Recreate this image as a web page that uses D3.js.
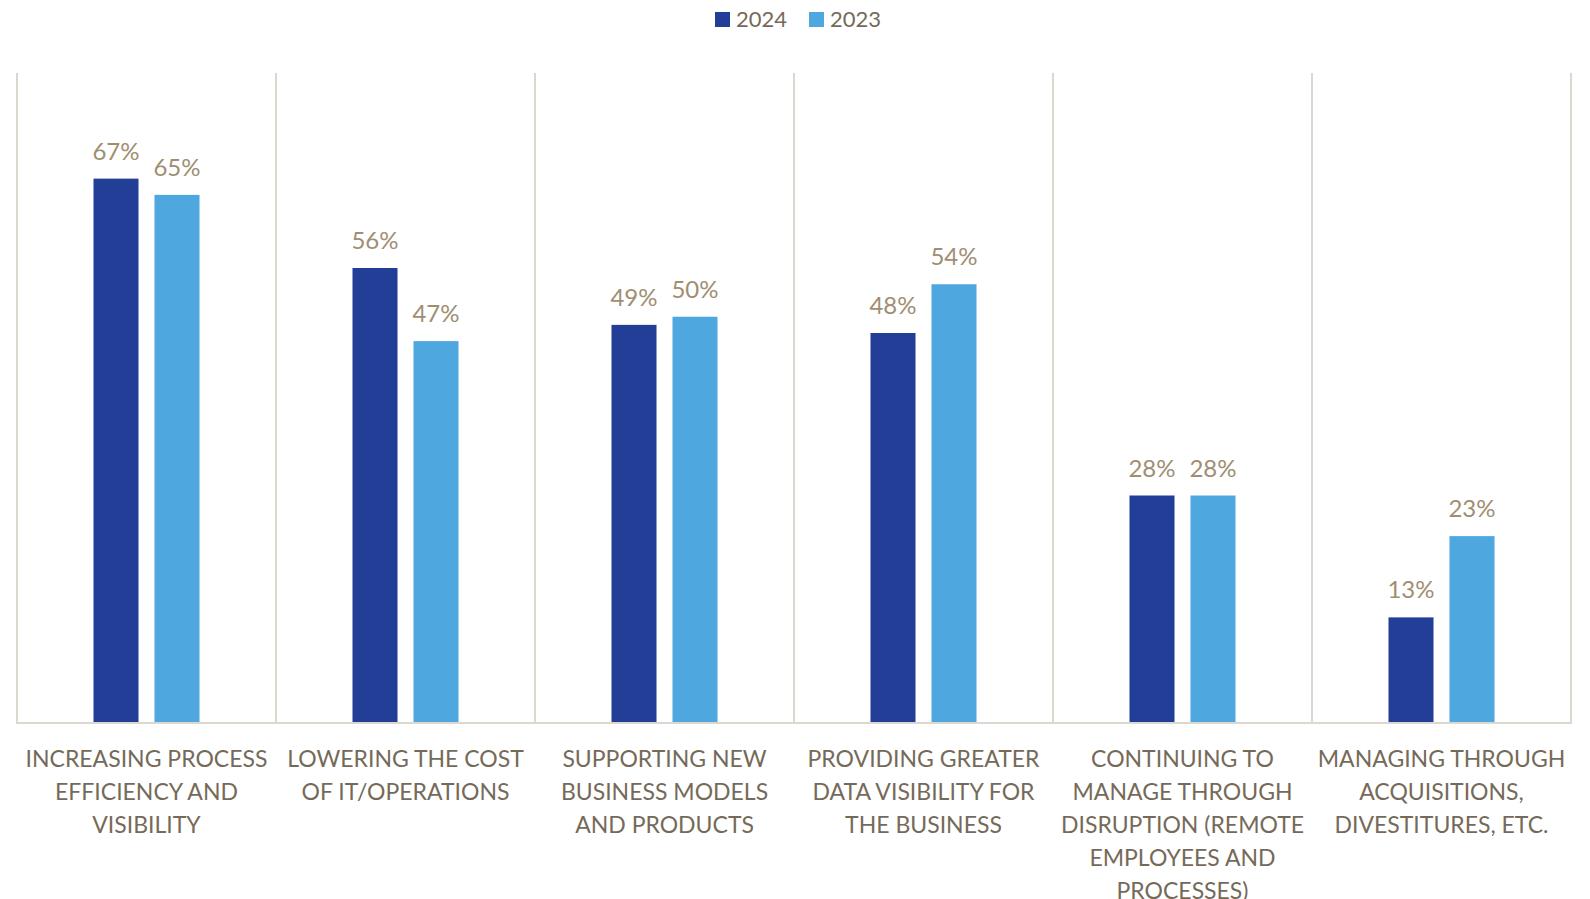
<!DOCTYPE html>
<html>
<head>
<meta charset="utf-8">
<script src="https://cdn.jsdelivr.net/npm/d3@7"></script>
<style>
  html, body { margin: 0; padding: 0; background: #ffffff; overflow: hidden; }
  svg { display: block; font-family: Lato, "Open Sans", sans-serif; }
</style>
</head>
<body>
<svg id="chart" width="1590" height="899"></svg>
<script>
// Category labels, one array of wrapped lines per category
const categories = [
  ["INCREASING PROCESS", "EFFICIENCY AND", "VISIBILITY"],
  ["LOWERING THE COST", "OF IT/OPERATIONS"],
  ["SUPPORTING NEW", "BUSINESS MODELS", "AND PRODUCTS"],
  ["PROVIDING GREATER", "DATA VISIBILITY FOR", "THE BUSINESS"],
  ["CONTINUING TO", "MANAGE THROUGH", "DISRUPTION (REMOTE", "EMPLOYEES AND", "PROCESSES)"],
  ["MANAGING THROUGH", "ACQUISITIONS,", "DIVESTITURES, ETC."]
];
const seriesNames = ["2024", "2023"];
const values2024 = [67, 56, 49, 48, 28, 13];
const values2023 = [65, 47, 50, 54, 28, 23];
const seriesColors = ["#233e97", "#4ea8df"];

const seriesValues = [values2024, values2023];
const catKeys = categories.map((c, i) => i);

const svg = d3.select("#chart");
const plot = { left: 17, right: 1571, top: 73, bottom: 723 };

const x0 = d3.scaleBand().domain(catKeys).range([plot.left, plot.right]).padding(0);
const x1 = d3.scaleBand().domain(seriesNames).range([0, x0.bandwidth()])
  .paddingInner(0.262).paddingOuter(1.254);
const y = d3.scaleLinear().domain([0, 80]).range([plot.bottom, plot.top]);

const gridColor = "#dcd8cf";
const labelColor = "#756a59";
const valueColor = "#a08e72";

// Vertical separators between categories
const seps = catKeys.map(k => x0(k)).concat([plot.right]);
svg.append("g").selectAll("line").data(seps).join("line")
  .attr("x1", d => d).attr("x2", d => d)
  .attr("y1", plot.top).attr("y2", plot.bottom)
  .attr("stroke", gridColor).attr("stroke-width", 2);

// Bars and value labels
const groups = svg.append("g").selectAll("g").data(catKeys).join("g")
  .attr("transform", k => `translate(${x0(k)},0)`);

const cells = groups.selectAll("g.cell")
  .data(k => seriesNames.map((s, si) => ({ s, si, v: seriesValues[si][k] })))
  .join("g").attr("class", "cell");

cells.append("rect")
  .attr("x", d => x1(d.s))
  .attr("width", x1.bandwidth())
  .attr("y", d => y(d.v))
  .attr("height", d => y(0) - y(d.v))
  .attr("fill", d => seriesColors[d.si]);

cells.append("text")
  .attr("x", d => x1(d.s) + x1.bandwidth() / 2)
  .attr("y", d => y(d.v) - 19)
  .attr("text-anchor", "middle")
  .attr("font-size", 24)
  .attr("fill", valueColor)
  .text(d => d.v + "%");

// Baseline
svg.append("line")
  .attr("x1", plot.left - 1).attr("x2", plot.right + 1)
  .attr("y1", plot.bottom).attr("y2", plot.bottom)
  .attr("stroke", gridColor).attr("stroke-width", 2);

// Category labels
const catLabels = svg.append("g").selectAll("text").data(catKeys).join("text")
  .attr("text-anchor", "middle")
  .attr("font-size", 23)
  .attr("fill", labelColor)
  .attr("transform", k => `translate(${x0(k) + x0.bandwidth() / 2},0)`);
catLabels.selectAll("tspan").data(k => categories[k]).join("tspan")
  .attr("x", 0)
  .attr("y", (d, i) => 767 + i * 33)
  .text(d => d);

// Legend
const legend = svg.append("g");
const legendX = [715, 809];
seriesNames.forEach((s, i) => {
  legend.append("rect")
    .attr("x", legendX[i]).attr("y", 12)
    .attr("width", 15).attr("height", 15)
    .attr("fill", seriesColors[i]);
  legend.append("text")
    .attr("x", legendX[i] + 21).attr("y", 27)
    .attr("font-size", 22)
    .attr("fill", labelColor)
    .text(s);
});
</script>
</body>
</html>
